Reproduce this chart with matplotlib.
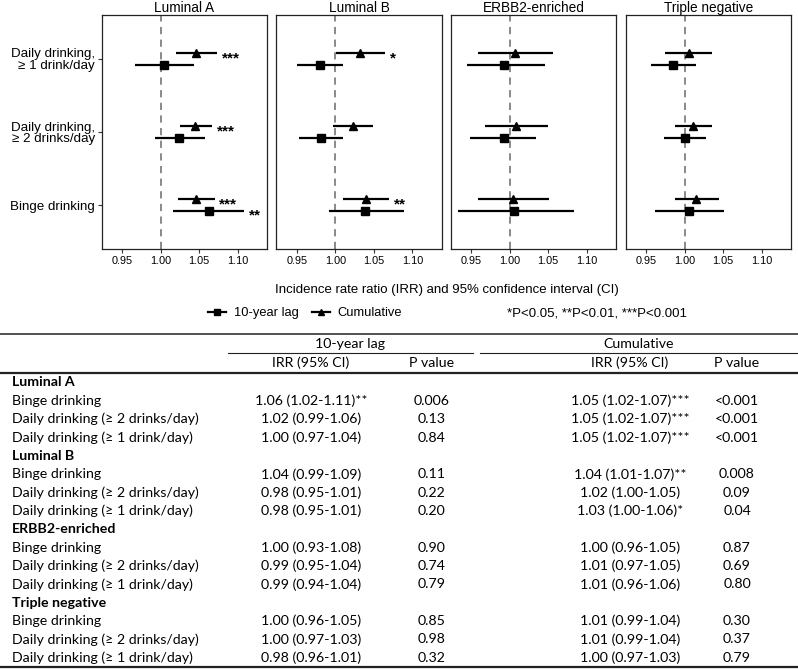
import matplotlib
matplotlib.use("Agg")
import matplotlib.pyplot as plt
from matplotlib.lines import Line2D

# ---------------- data ----------------
subtypes = ["Luminal A", "Luminal B", "ERBB2-enriched", "Triple negative"]
exposures = ["Binge drinking", "Daily drinking,\n≥ 2 drinks/day", "Daily drinking,\n≥ 1 drink/day"]
xticks = [0.95, 1.00, 1.05, 1.10]

# order per subtype: binge, >=2, >=1
lag_irr = [[1.062, 1.024, 1.004], [1.039, 0.981, 0.980], [1.005, 0.992, 0.993], [1.005, 1.000, 0.985]]
lag_lo = [[1.0165, 0.9926, 0.9667], [0.9915, 0.953, 0.950], [0.933, 0.948, 0.945], [0.961, 0.973, 0.956]]
lag_hi = [[1.108, 1.058, 1.043], [1.089, 1.010, 1.010], [1.083, 1.034, 1.046], [1.051, 1.028, 1.015]]
lag_stars = [["**", "", ""], ["", "", ""], ["", "", ""], ["", "", ""]]

cum_irr = [[1.046, 1.045, 1.046], [1.040, 1.0225, 1.032], [1.004, 1.008, 1.0065], [1.015, 1.011, 1.005]]
cum_lo = [[1.023, 1.025, 1.020], [1.010, 0.9965, 1.001], [0.959, 0.968, 0.959], [0.988, 0.988, 0.975]]
cum_hi = [[1.070, 1.067, 1.073], [1.070, 1.049, 1.0645], [1.051, 1.050, 1.056], [1.044, 1.036, 1.035]]
cum_stars = [["***", "***", "***"], ["**", "", "*"], ["", "", ""], ["", "", ""]]

# table
tab_groups = ["Luminal A", "Luminal B", "ERBB2-enriched", "Triple negative"]
tab_rows = ["Binge drinking", "Daily drinking (≥ 2 drinks/day)", "Daily drinking (≥ 1 drink/day)"]
tab_lag_irr = [["1.06 (1.02-1.11)**", "1.02 (0.99-1.06)", "1.00 (0.97-1.04)"],
               ["1.04 (0.99-1.09)", "0.98 (0.95-1.01)", "0.98 (0.95-1.01)"],
               ["1.00 (0.93-1.08)", "0.99 (0.95-1.04)", "0.99 (0.94-1.04)"],
               ["1.00 (0.96-1.05)", "1.00 (0.97-1.03)", "0.98 (0.96-1.01)"]]
tab_lag_p = [["0.006", "0.13", "0.84"], ["0.11", "0.22", "0.20"],
             ["0.90", "0.74", "0.79"], ["0.85", "0.98", "0.32"]]
tab_cum_irr = [["1.05 (1.02-1.07)***", "1.05 (1.02-1.07)***", "1.05 (1.02-1.07)***"],
               ["1.04 (1.01-1.07)**", "1.02 (1.00-1.05)", "1.03 (1.00-1.06)*"],
               ["1.00 (0.96-1.05)", "1.01 (0.97-1.05)", "1.01 (0.96-1.06)"],
               ["1.01 (0.99-1.04)", "1.01 (0.99-1.04)", "1.00 (0.97-1.03)"]]
tab_cum_p = [["<0.001", "<0.001", "<0.001"], ["0.008", "0.09", "0.04"],
             ["0.87", "0.69", "0.80"], ["0.30", "0.37", "0.79"]]
tab_header_groups = ["10-year lag", "Cumulative"]
tab_header_cols = ["IRR (95% CI)", "P value", "IRR (95% CI)", "P value"]

# ---------------- figure ----------------
W, H = 798, 669
fig = plt.figure(figsize=(W / 100, H / 100), dpi=100)
plt.rcParams["font.family"] = ["Liberation Sans", "DejaVu Sans"]

def fx(x):
    return x / W

def fy(y):
    return 1 - y / H

panel_left = [101.7, 276.3, 450.7, 625.7]
panel_w = 165.7
panel_top, panel_bot = 15, 249
off = 0.077
ypos = [1, 2, 3]

for i, name in enumerate(subtypes):
    ax = fig.add_axes([fx(panel_left[i]), fy(panel_bot), panel_w / W, (panel_bot - panel_top) / H])
    ax.axvline(1.0, color="#808080", ls=(0, (4, 3)), lw=1.3, zorder=1)
    for j, y in enumerate(ypos):
        # 10-year lag (square, below)
        yl = y - off
        ax.plot([lag_lo[i][j], lag_hi[i][j]], [yl, yl], color="black", lw=1.6, solid_capstyle="butt", zorder=2)
        ax.plot(lag_irr[i][j], yl, marker="s", ms=5.4, color="black", zorder=3)
        if lag_stars[i][j]:
            ax.text(lag_hi[i][j] + 0.006, yl - 0.07, lag_stars[i][j], fontsize=11, fontweight="bold",
                    ha="left", va="center")
        # cumulative (triangle, above)
        yc = y + off
        ax.plot([cum_lo[i][j], cum_hi[i][j]], [yc, yc], color="black", lw=1.6, solid_capstyle="butt", zorder=2)
        ax.plot(cum_irr[i][j], yc, marker="^", ms=6.2, color="black", zorder=3)
        if cum_stars[i][j]:
            ax.text(cum_hi[i][j] + 0.006, yc - 0.07, cum_stars[i][j], fontsize=11, fontweight="bold",
                    ha="left", va="center")
    ax.set_xlim(0.9234, 1.1384)
    ax.set_ylim(0.4, 3.6)
    ax.set_xticks(xticks)
    ax.set_xticklabels([f"{t:.2f}" for t in xticks], fontsize=7.8)
    ax.set_yticks(ypos)
    if i == 0:
        ax.set_yticklabels(exposures, fontsize=9.6, linespacing=0.95)
    else:
        ax.tick_params(axis="y", left=False, labelleft=False)
    ax.tick_params(axis="both", length=3, width=0.8, color="#333333", pad=2)
    for s in ax.spines.values():
        s.set_color("#222222")
        s.set_linewidth(0.9)
    ax.set_title(name, fontsize=9.8, pad=2.5)

fig.text(fx(446.5), fy(290), "Incidence rate ratio (IRR) and 95% confidence interval (CI)",
         ha="center", va="center", fontsize=9.5)

handles = [Line2D([], [], color="black", lw=1.6, marker="s", ms=4.5),
           Line2D([], [], color="black", lw=1.6, marker="^", ms=5)]
fig.legend(handles, ["10-year lag", "Cumulative"], loc="center", bbox_to_anchor=(fx(305), fy(313)),
           ncol=2, frameon=False, fontsize=9.3, handlelength=1.4, handletextpad=0.6, columnspacing=1.0,
           borderpad=0)
fig.text(fx(507), fy(313), "*P<0.05, **P<0.01, ***P<0.001", ha="left", va="center", fontsize=9.5)

# ---------------- table ----------------
tfont = ["Lato", "DejaVu Sans"]
tsize = 10.2
def hline(y, x0, x1, lw):
    fig.add_artist(Line2D([fx(x0), fx(x1)], [fy(y), fy(y)], color="#222222", lw=lw))

hline(334, 0, 798, 1.1)
hline(353, 228, 473, 0.8)
hline(353, 480, 798, 0.8)
hline(372.5, 0, 798, 1.6)
hline(667, 0, 798, 1.6)

grp_x = [350, 639]
col_x = [311, 432, 630, 737]
for g, x in zip(tab_header_groups, grp_x):
    fig.text(fx(x), fy(344), g, ha="center", va="center", fontsize=tsize, family=tfont)
for c, x in zip(tab_header_cols, col_x):
    fig.text(fx(x), fy(363), c, ha="center", va="center", fontsize=tsize, family=tfont)

row_y = 382.5
step = 18.35
for g in range(len(tab_groups)):
    fig.text(fx(11.5), fy(row_y), tab_groups[g], ha="left", va="center", fontsize=tsize,
             family=tfont, fontweight="bold")
    row_y += step
    for r in range(3):
        fig.text(fx(11.5), fy(row_y), tab_rows[r], ha="left", va="center", fontsize=tsize, family=tfont)
        vals = [tab_lag_irr[g][r], tab_lag_p[g][r], tab_cum_irr[g][r], tab_cum_p[g][r]]
        for v, x in zip(vals, col_x):
            fig.text(fx(x), fy(row_y), v, ha="center", va="center", fontsize=tsize, family=tfont)
        row_y += step

fig.savefig("out.png", dpi=100)
